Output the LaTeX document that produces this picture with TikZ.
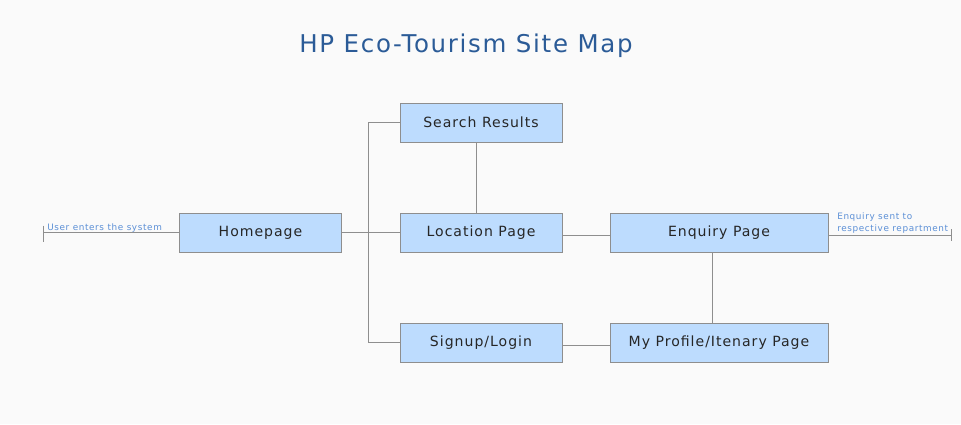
\documentclass[tikz,border=0pt]{standalone}
\usepackage{fontspec}
\setmainfont[LetterSpace=7]{DejaVu Sans}
\usetikzlibrary{positioning}
\definecolor{pagebg}{HTML}{FAFAFA}
\definecolor{boxfill}{HTML}{BDDCFE}
\definecolor{boxline}{HTML}{8E8E8E}
\definecolor{titleblue}{HTML}{2B5B97}
\definecolor{noteblue}{HTML}{5B8FD6}
\begin{document}
\begin{tikzpicture}[x=0.025cm,y=-0.025cm,
  page/.style={draw=boxline,line width=0.6pt,fill=boxfill,minimum width=4.05cm,minimum height=0.975cm,inner sep=0pt,font=\fontsize{10}{12}\selectfont,text=black!85},
  widepage/.style={page,minimum width=5.45cm},
  link/.style={draw=boxline,line width=0.6pt},
  note/.style={text=noteblue,font=\fontsize{6.3}{8.6}\selectfont,inner sep=0pt,align=left}]
\fill[pagebg] (0,0) rectangle (961,424);
\node[text=titleblue,font=\fontsize{17.4}{20}\selectfont] (title) at (466,46) {HP Eco-Tourism Site Map};
\node[page] (home) at (260.5,232.5) {Homepage};
\node[page] (search) at (481,122.5) {Search Results};
\node[page] (loc) at (481,232.5) {Location Page};
\node[page] (signup) at (481,342.5) {Signup/Login};
\node[widepage] (enq) at (719,232.5) {Enquiry Page};
\node[widepage] (profile) at (719,342.5) {My Profile/Itenary Page};
\coordinate (start) at (43,232.5);
\coordinate (stop) at (951,235);
\draw[link] (search.west) -- ++(-31,0) |- (signup.west);
\draw[link] (home.east) -- (loc.west);
\draw[link] ([xshift=-5*0.025cm]search.south) -- ([xshift=-5*0.025cm]loc.north);
\draw[link] ([yshift=-3*0.025cm]loc.east) -- ([yshift=-3*0.025cm]enq.west);
\draw[link] ([yshift=-3*0.025cm]signup.east) -- ([yshift=-3*0.025cm]profile.west);
\draw[link] ([xshift=-7*0.025cm]enq.south) -- ([xshift=-7*0.025cm]profile.north);
\draw[link] (start) -- (home.west);
\draw[link] (start) ++(0,-7) -- ++(0,16);
\draw[link] (enq.east|-stop) -- (stop);
\draw[link] (stop) ++(0,-6) -- ++(0,12);
\node[note,anchor=base west] (usernote) at (47,230.5) {User enters the system};
\node[note,anchor=base west] (enqnote) at (837,231.5) {Enquiry sent to\\respective repartment};
\end{tikzpicture}
\end{document}
